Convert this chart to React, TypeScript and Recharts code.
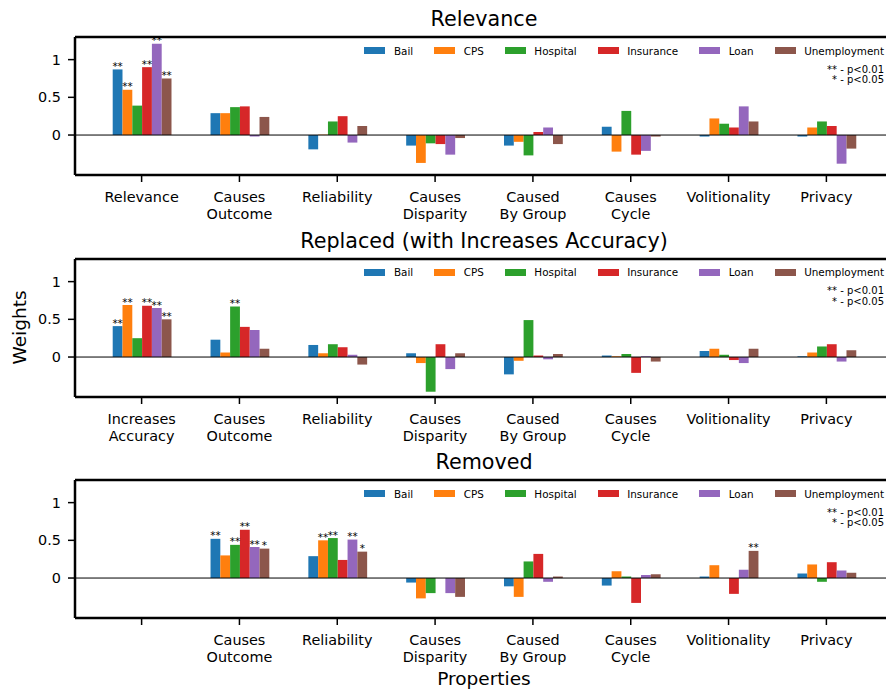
import { Bar, BarChart, LabelList, ReferenceLine, XAxis, YAxis } from 'recharts';

const SERIES = ['Bail', 'CPS', 'Hospital', 'Insurance', 'Loan', 'Unemployment'];
const COLORS = ['#1f77b4', '#ff7f0e', '#2ca02c', '#d62728', '#9467bd', '#8c564b'];

const Y_MIN = -0.53;
const Y_MAX = 1.3;
const Y_TICKS = [0, 0.5, 1];

const relevanceLabels = ['Relevance', 'Causes\nOutcome', 'Reliability', 'Causes\nDisparity', 'Caused\nBy Group', 'Causes\nCycle', 'Volitionality', 'Privacy'];
const replacedLabels = ['Increases\nAccuracy', 'Causes\nOutcome', 'Reliability', 'Causes\nDisparity', 'Caused\nBy Group', 'Causes\nCycle', 'Volitionality', 'Privacy'];
const removedLabels = ['', 'Causes\nOutcome', 'Reliability', 'Causes\nDisparity', 'Caused\nBy Group', 'Causes\nCycle', 'Volitionality', 'Privacy'];

// Relevance
const relBail = [0.87, 0.29, -0.19, -0.14, -0.14, 0.11, -0.02, -0.02];
const relCps = [0.6, 0.29, 0.005, -0.37, -0.09, -0.22, 0.22, 0.1];
const relHospital = [0.39, 0.37, 0.18, -0.11, -0.27, 0.32, 0.15, 0.18];
const relInsurance = [0.9, 0.38, 0.25, -0.12, 0.04, -0.26, 0.1, 0.12];
const relLoan = [1.21, -0.02, -0.1, -0.26, 0.1, -0.21, 0.38, -0.38];
const relUnemployment = [0.75, 0.24, 0.12, -0.04, -0.12, -0.02, 0.18, -0.18];
const relSig = [['**', '**', '', '**', '**', '**']];

// Replaced (with Increases Accuracy)
const repBail = [0.41, 0.23, 0.16, 0.05, -0.23, 0.02, 0.08, 0.01];
const repCps = [0.69, 0.06, 0.05, -0.08, -0.05, 0.01, 0.11, 0.06];
const repHospital = [0.25, 0.67, 0.17, -0.46, 0.49, 0.04, 0.03, 0.14];
const repInsurance = [0.68, 0.4, 0.13, 0.17, 0.02, -0.21, -0.04, 0.17];
const repLoan = [0.65, 0.36, 0.03, -0.16, -0.03, 0.01, -0.08, -0.06];
const repUnemployment = [0.5, 0.11, -0.1, 0.05, 0.04, -0.06, 0.11, 0.09];
const repSig = [
  ['**', '**', '', '**', '**', '**'],
  ['', '', '**', '', '', ''],
];

// Removed
const remBail = [0, 0.52, 0.29, -0.06, -0.11, -0.1, 0.02, 0.06];
const remCps = [0, 0.3, 0.5, -0.27, -0.25, 0.09, 0.17, 0.18];
const remHospital = [0, 0.44, 0.53, -0.2, 0.22, 0.02, 0, -0.05];
const remInsurance = [0, 0.64, 0.24, 0, 0.32, -0.33, -0.21, 0.21];
const remLoan = [0, 0.41, 0.51, -0.2, -0.05, 0.04, 0.11, 0.1];
const remUnemployment = [0, 0.39, 0.35, -0.25, 0.02, 0.05, 0.36, 0.07];
const remSig = [
  [],
  ['**', '', '**', '**', '**', '*'],
  ['', '**', '**', '', '**', '*'],
  [],
  [],
  [],
  ['', '', '', '', '', '**'],
];

function buildRows(labels: string[], series: number[][], sig: string[][]) {
  return labels.map((label, i) => {
    const row: Record<string, any> = { label };
    SERIES.forEach((s, si) => {
      row[s] = series[si][i];
      row[s + 'Sig'] = (sig[i] && sig[i][si]) || '';
    });
    return row;
  });
}

const panels = [
  {
    title: 'Relevance',
    rows: buildRows(relevanceLabels, [relBail, relCps, relHospital, relInsurance, relLoan, relUnemployment], relSig),
  },
  {
    title: 'Replaced (with Increases Accuracy)',
    rows: buildRows(replacedLabels, [repBail, repCps, repHospital, repInsurance, repLoan, repUnemployment], repSig),
  },
  {
    title: 'Removed',
    rows: buildRows(removedLabels, [remBail, remCps, remHospital, remInsurance, remLoan, remUnemployment], remSig),
  },
];

const PANEL_TOPS = [0, 221.5, 443];
const FONT = 'DejaVu Sans';

function CategoryTick(props: any) {
  const { x, y, payload } = props;
  const lines = String(payload.value).split('\n');
  return (
    <text x={x} y={y} textAnchor="middle" fontSize={14.4} fill="#000" fontFamily={FONT}>
      {lines.map((line, i) => (
        <tspan key={i} x={x} dy={i === 0 ? 17.7 : 16.8}>
          {line}
        </tspan>
      ))}
    </text>
  );
}

function SigMark(props: any) {
  const { value } = props;
  if (!value) return null;
  const vb = props.viewBox || props;
  const top = Math.min(vb.y, vb.y + vb.height);
  return (
    <text x={vb.x + vb.width / 2} y={top + 0.5} textAnchor="middle" fontSize={10.4} fill="#000" fontFamily={FONT}>
      {value}
    </text>
  );
}

function Panel({ rows, top }: { rows: any[]; top: number }) {
  return (
    <div style={{ position: 'absolute', left: 0, top }}>
      <BarChart
        width={893}
        height={235}
        data={rows}
        margin={{ top: 37, right: 0, bottom: 20, left: 15 }}
        barGap={0}
        barSize={9.8}
      >
        <XAxis
          dataKey="label"
          height={40}
          interval={0}
          padding={{ left: 17.7, right: 17.7 }}
          tick={<CategoryTick />}
          tickSize={7}
          tickLine={{ stroke: '#000', strokeWidth: 1.5 }}
          axisLine={{ stroke: '#000', strokeWidth: 2.5 }}
        />
        <YAxis
          type="number"
          width={60}
          domain={[Y_MIN, Y_MAX]}
          allowDataOverflow
          ticks={Y_TICKS}
          tickSize={7}
          tickMargin={7}
          tick={{ fill: '#000', fontSize: 14.4, fontFamily: FONT }}
          tickLine={{ stroke: '#000', strokeWidth: 1.5 }}
          axisLine={{ stroke: '#000', strokeWidth: 2.5 }}
        />
        {SERIES.map((s, si) => (
          <Bar key={s} dataKey={s} fill={COLORS[si]} isAnimationActive={false}>
            <LabelList dataKey={s + 'Sig'} content={<SigMark />} />
          </Bar>
        ))}
        <ReferenceLine y={0} stroke="#000" strokeWidth={1} />
        <ReferenceLine y={Y_MAX} stroke="#000" strokeWidth={2.5} />
      </BarChart>
    </div>
  );
}

function LegendRow({ top }: { top: number }) {
  return (
    <div
      style={{
        position: 'absolute',
        right: 2,
        top: top + 44.7,
        height: 12,
        display: 'flex',
        alignItems: 'center',
        fontFamily: FONT,
        fontSize: 10.4,
        lineHeight: '12px',
        color: '#000',
        whiteSpace: 'nowrap',
      }}
    >
      {SERIES.map((s, si) => (
        <div key={s} style={{ display: 'flex', alignItems: 'center', marginLeft: si === 0 ? 0 : 21 }}>
          <div style={{ width: 21, height: 7, background: COLORS[si], marginRight: 8.5 }} />
          <span>{s}</span>
        </div>
      ))}
    </div>
  );
}

export default function App() {
  return (
    <div
      style={{
        position: 'absolute',
        left: 0,
        top: 0,
        width: 886,
        height: 692,
        overflow: 'hidden',
        background: '#fff',
      }}
    >
      {panels.map((p, i) => (
        <Panel key={p.title} rows={p.rows} top={PANEL_TOPS[i]} />
      ))}
      {panels.map((p, i) => (
        <LegendRow key={p.title} top={PANEL_TOPS[i]} />
      ))}
      <svg width={886} height={692} style={{ position: 'absolute', left: 0, top: 0, pointerEvents: 'none' }}>
        {panels.map((p, i) => (
          <g key={p.title} fontFamily={FONT} fill="#000">
            <text x={484} y={PANEL_TOPS[i] + 26} textAnchor="middle" fontSize={20.7}>
              {p.title}
            </text>
            <text x={884} y={PANEL_TOPS[i] + 72.5} textAnchor="end" fontSize={10}>
              ** - p&lt;0.01
            </text>
            <text x={884} y={PANEL_TOPS[i] + 83} textAnchor="end" fontSize={10}>
              * - p&lt;0.05
            </text>
          </g>
        ))}
        <text transform="translate(26, 327.5) rotate(-90)" textAnchor="middle" fontSize={18.5} fontFamily={FONT} fill="#000">
          Weights
        </text>
        <text x={484} y={685} textAnchor="middle" fontSize={18.5} fontFamily={FONT} fill="#000">
          Properties
        </text>
      </svg>
    </div>
  );
}
